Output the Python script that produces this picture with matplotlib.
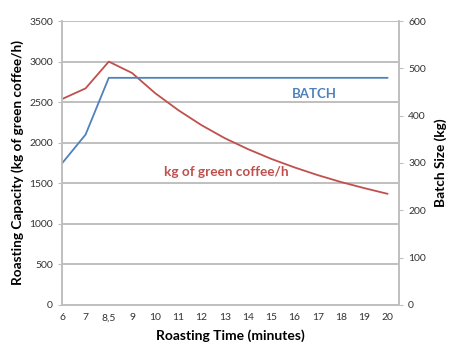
import matplotlib.pyplot as plt
import numpy as np

plt.rcParams['font.family'] = ['Lato', 'DejaVu Sans']

# data
times = ['6', '7', '8,5', '9', '10', '11', '12', '13', '14', '15', '16', '17', '18', '19', '20']
capacity = [2540, 2670, 3000, 2860, 2610, 2400, 2215, 2055, 1920, 1800, 1695, 1600, 1515, 1440, 1370]
batch = [300, 360, 480, 480, 480, 480, 480, 480, 480, 480, 480, 480, 480, 480, 480]

red = '#c0504d'
blue = '#4f81bd'
grey = '#bfbfbf'

fig = plt.figure(figsize=(4.55, 3.57), dpi=100)
ax = fig.add_axes([0.136, 0.146, 0.741, 0.795])
ax2 = ax.twinx()

x = np.arange(len(times))
ax.plot(x, capacity, color=red, lw=1.3)
ax2.plot(x, batch, color=blue, lw=1.3)

ax.set_ylim(0, 3500)
ax.set_yticks(np.arange(0, 3501, 500))
ax2.set_ylim(0, 600)
ax2.set_yticks(np.arange(0, 601, 100))
ax.set_xlim(-0.02, 14.5)
ax.set_xticks(x)
ax.set_xticklabels(times)

ax.yaxis.grid(True, color=grey, lw=1.4)
ax.set_axisbelow(True)

for a in (ax, ax2):
    a.spines['top'].set_visible(False)
    for s in ('left', 'right', 'bottom'):
        a.spines[s].set_color(grey)
        a.spines[s].set_linewidth(1.2)
    a.tick_params(axis='y', colors=grey, labelcolor='#333333', labelsize=7.5, length=3)
ax.tick_params(axis='x', length=0, labelsize=7.5, labelcolor='#333333', pad=6)

ax.set_xlabel('Roasting Time (minutes)', fontsize=10, fontweight='bold', labelpad=5)
ax.set_ylabel('Roasting Capacity (kg of green coffee/h)', fontsize=9.8, fontweight='bold', labelpad=4)
ax2.set_ylabel('Batch Size (kg)', fontsize=9.8, fontweight='bold', labelpad=6)

ax2.text(10.85, 446, 'BATCH', color=blue, fontsize=9.5, fontweight='bold', ha='center', va='center')
ax.text(7.05, 1640, 'kg of green coffee/h', color=red, fontsize=9.8, fontweight='bold', ha='center', va='center')

fig.savefig('out.png', dpi=100)
